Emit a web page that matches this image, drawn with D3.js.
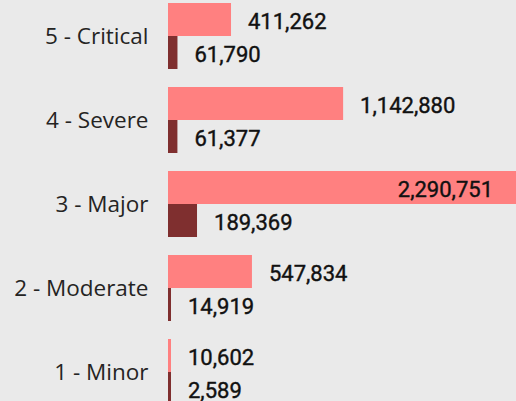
<!DOCTYPE html>
<html>
<head>
<meta charset="utf-8">
<script src="https://d3js.org/d3.v7.min.js"></script>
<style>
  body { margin: 0; background: #eaeaea; }
  svg { display: block; }
  .cat { font: 22.5px "Open Sans", sans-serif; fill: #252423; text-anchor: end; }
  .val { font: 400 22px Roboto, sans-serif; fill: #111; stroke: #111; stroke-width: 0.4px; }
</style>
</head>
<body>
<div id="chart"></div>
<script>
  "use strict"

  // data
  var categories = ["5 - Critical", "4 - Severe", "3 - Major", "2 - Moderate", "1 - Minor"];
  var seriesNames = ["total", "subset"];
  var totalValues = [411262, 1142880, 2290751, 547834, 10602];
  var subsetValues = [61790, 61377, 189369, 14919, 2589];
  var colors = ["#ff8080", "#7f2f2f"];

  var width = 516, height = 401;
  var left = 168;

  var rows = categories.map(function (c, i) {
    return { cat: c, vals: [totalValues[i], subsetValues[i]] };
  });

  var svg = d3.select('#chart')
    .append('svg')
    .attr('width', width)
    .attr('height', height);

  var y = d3.scaleBand()
    .domain(categories)
    .range([-6, 414])
    .paddingInner(18 / 84)
    .paddingOuter(9 / 84);

  var ySub = d3.scaleBand()
    .domain(seriesNames)
    .range([0, y.bandwidth()]);

  var x = d3.scaleLinear()
    .domain([0, d3.max(totalValues)])
    .range([0, 351]);

  var fmt = d3.format(",");

  var groups = svg.selectAll('g.row')
    .data(rows)
    .enter()
    .append('g')
    .attr('class', 'row')
    .attr('transform', d => 'translate(0,' + y(d.cat) + ')');

  groups.append('text')
    .attr('class', 'cat')
    .attr('x', 148.5)
    .attr('y', y.bandwidth() / 2 + 8)
    .text(d => d.cat);

  seriesNames.forEach(function (s, k) {
    groups.append('rect')
      .attr('x', left)
      .attr('y', ySub(s))
      .attr('width', d => Math.max(3, x(d.vals[k])))
      .attr('height', ySub.bandwidth())
      .attr('fill', colors[k]);

    groups.append('text')
      .attr('class', 'val')
      .each(function (d) {
        var end = left + Math.max(3, x(d.vals[k]));
        var t = d3.select(this).text(fmt(d.vals[k]));
        var w = this.getComputedTextLength();
        var cy = ySub(s) + ySub.bandwidth() / 2 + 9;
        if (end + 17 + w > width) {
          t.attr('x', end - 26).attr('text-anchor', 'end').attr('y', cy);
        } else {
          t.attr('x', end + 17).attr('y', cy);
        }
      });
  });
</script>
</body>
</html>
